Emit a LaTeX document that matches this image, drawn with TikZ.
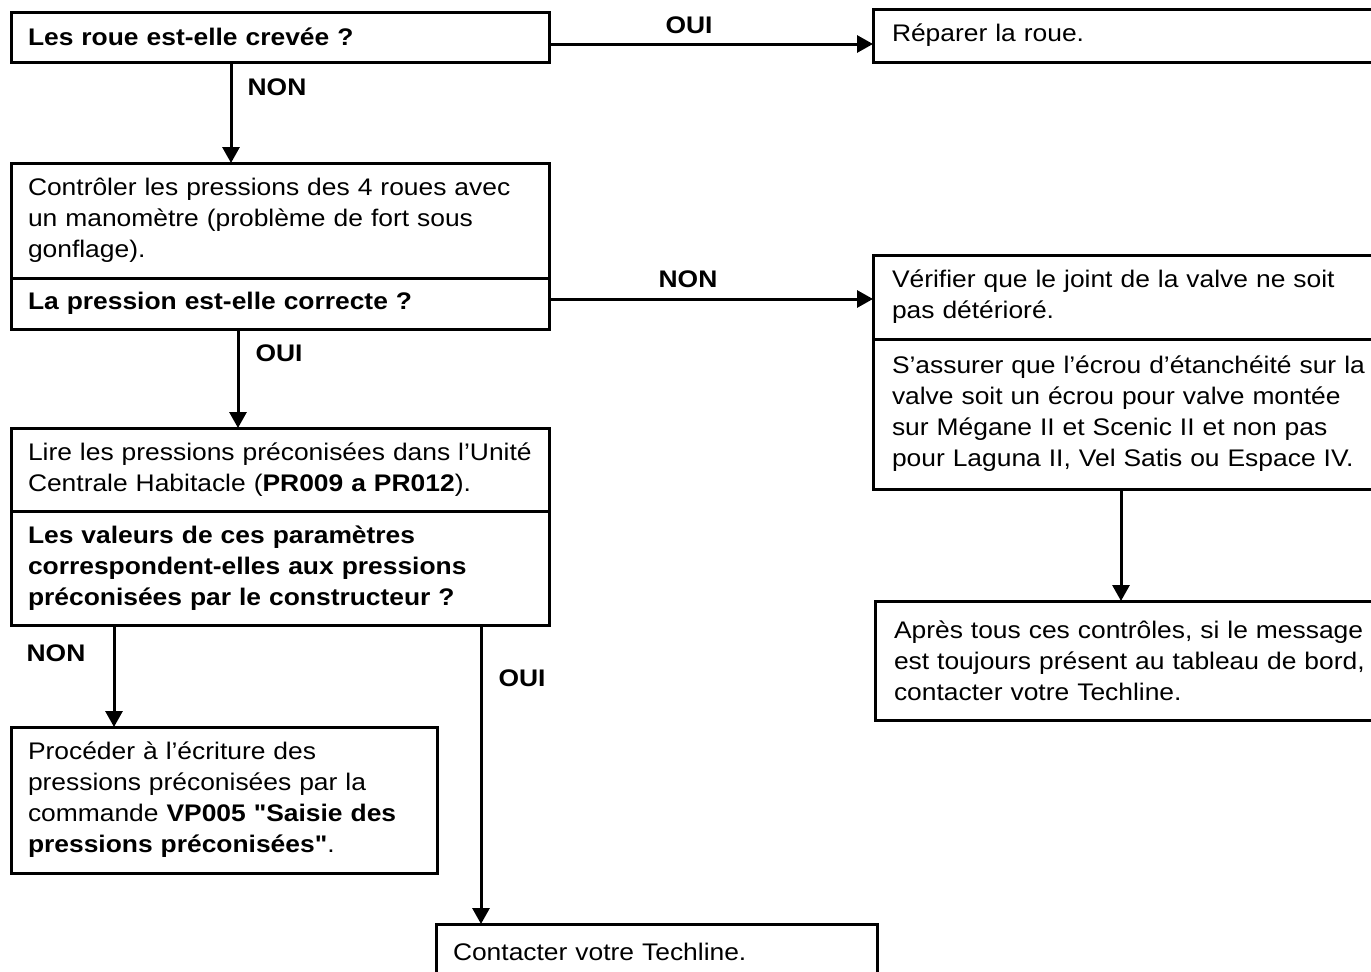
\documentclass[tikz,border=0pt]{standalone}
\usepackage{fontspec}
\setmainfont{Liberation Sans}[FakeStretch=1.1, Ligatures=TeXOff]
\usetikzlibrary{arrows.meta,positioning}

\begin{document}
\begin{tikzpicture}[x=1pt, y=-1pt,
  every node/.style={font=\fontsize{24}{31}\selectfont},
  stepbox/.style={draw, line width=3pt, outer sep=0pt, anchor=north west,
                  align=left, inner ysep=2pt},
  lbox/.style={stepbox, inner xsep=17pt, text width=504pt},
  rbox/.style={stepbox, inner xsep=19pt, text width=502pt},
  answer/.style={font=\fontsize{24}{31}\selectfont\bfseries},
  flow/.style={line width=3pt, -{Triangle[length=16pt,width=17pt]}},
]
  \useasboundingbox (0,0) rectangle (1371,972);
  \clip (0,0) rectangle (1371,972);

  % left column ------------------------------------------------------------
  \node[lbox, minimum height=50pt] (q1) at (11,12)
    {\textbf{Les roue est-elle crevée ?}};
  \node[lbox, minimum height=115pt] (ctl) at (11,163)
    {Contrôler les pressions des 4 roues avec\\un manomètre (problème de fort sous\\gonflage).};
  \node[lbox, minimum height=51pt] (pq) at (11,278)
    {\textbf{La pression est-elle correcte ?}};
  \node[lbox, minimum height=83pt] (lire) at (11,428)
    {Lire les pressions préconisées dans l’Unité\\Centrale Habitacle (\textbf{PR009 a PR012}).};
  \node[lbox, minimum height=114pt] (vq) at (11,511)
    {\textbf{Les valeurs de ces paramètres}\\\textbf{correspondent-elles aux pressions}\\\textbf{préconisées par le constructeur ?}};
  \node[lbox, text width=392pt, minimum height=146pt] (proc) at (11,727)
    {Procéder à l’écriture des\\pressions préconisées par la\\commande \textbf{VP005 "Saisie des}\\\textbf{pressions préconisées"}.};
  \node[lbox, text width=407pt, minimum height=56pt] (tech) at (436,924)
    {Contacter votre Techline.};

  % right column -----------------------------------------------------------
  \node[rbox, minimum height=53pt] (rep) at (873,9)
    {Réparer la roue.};
  \node[rbox, minimum height=84pt] (valve) at (873,255)
    {Vérifier que le joint de la valve ne soit\\pas détérioré.};
  \node[rbox, minimum height=150pt] (nut) at (873,339)
    {S’assurer que l’écrou d’étanchéité sur la\\valve soit un écrou pour valve montée\\sur Mégane II et Scenic II et non pas\\pour Laguna II, Vel Satis ou Espace IV.};
  \node[rbox, minimum height=119pt] (apres) at (875,601)
    {Après tous ces contrôles, si le message\\est toujours présent au tableau de bord,\\contacter votre Techline.};

  % connectors -------------------------------------------------------------
  \coordinate (s1) at ([yshift=-7pt]q1.east);
  \coordinate (s2) at ([xshift=-49pt]q1.south);
  \coordinate (s3) at ([yshift=4.5pt]pq.east);
  \coordinate (s4) at ([xshift=-42pt]pq.south);
  \coordinate (s5) at ([xshift=-166pt]vq.south);
  \coordinate (s6) at ([xshift=201pt]vq.south);
  \coordinate (s7) at ([xshift=-22pt]nut.south);
  \draw[flow] (s1) -- (s1 -| rep.west);
  \draw[flow] (s2) -- (s2 |- ctl.north);
  \draw[flow] (s3) -- (s3 -| valve.west);
  \draw[flow] (s4) -- (s4 |- lire.north);
  \draw[flow] (s5) -- (s5 |- proc.north);
  \draw[flow] (s6) -- (s6 |- tech.north);
  \draw[flow] (s7) -- (s7 |- apres.north);

  % answers ----------------------------------------------------------------
  \node[answer] (oui1) at (689,25) {OUI};
  \node[answer] (non1) at (277,87) {NON};
  \node[answer] (non2) at (688,279) {NON};
  \node[answer] (oui2) at (279,353) {OUI};
  \node[answer] (non3) at (56,653) {NON};
  \node[answer] (oui3) at (522,678) {OUI};
\end{tikzpicture}
\end{document}
